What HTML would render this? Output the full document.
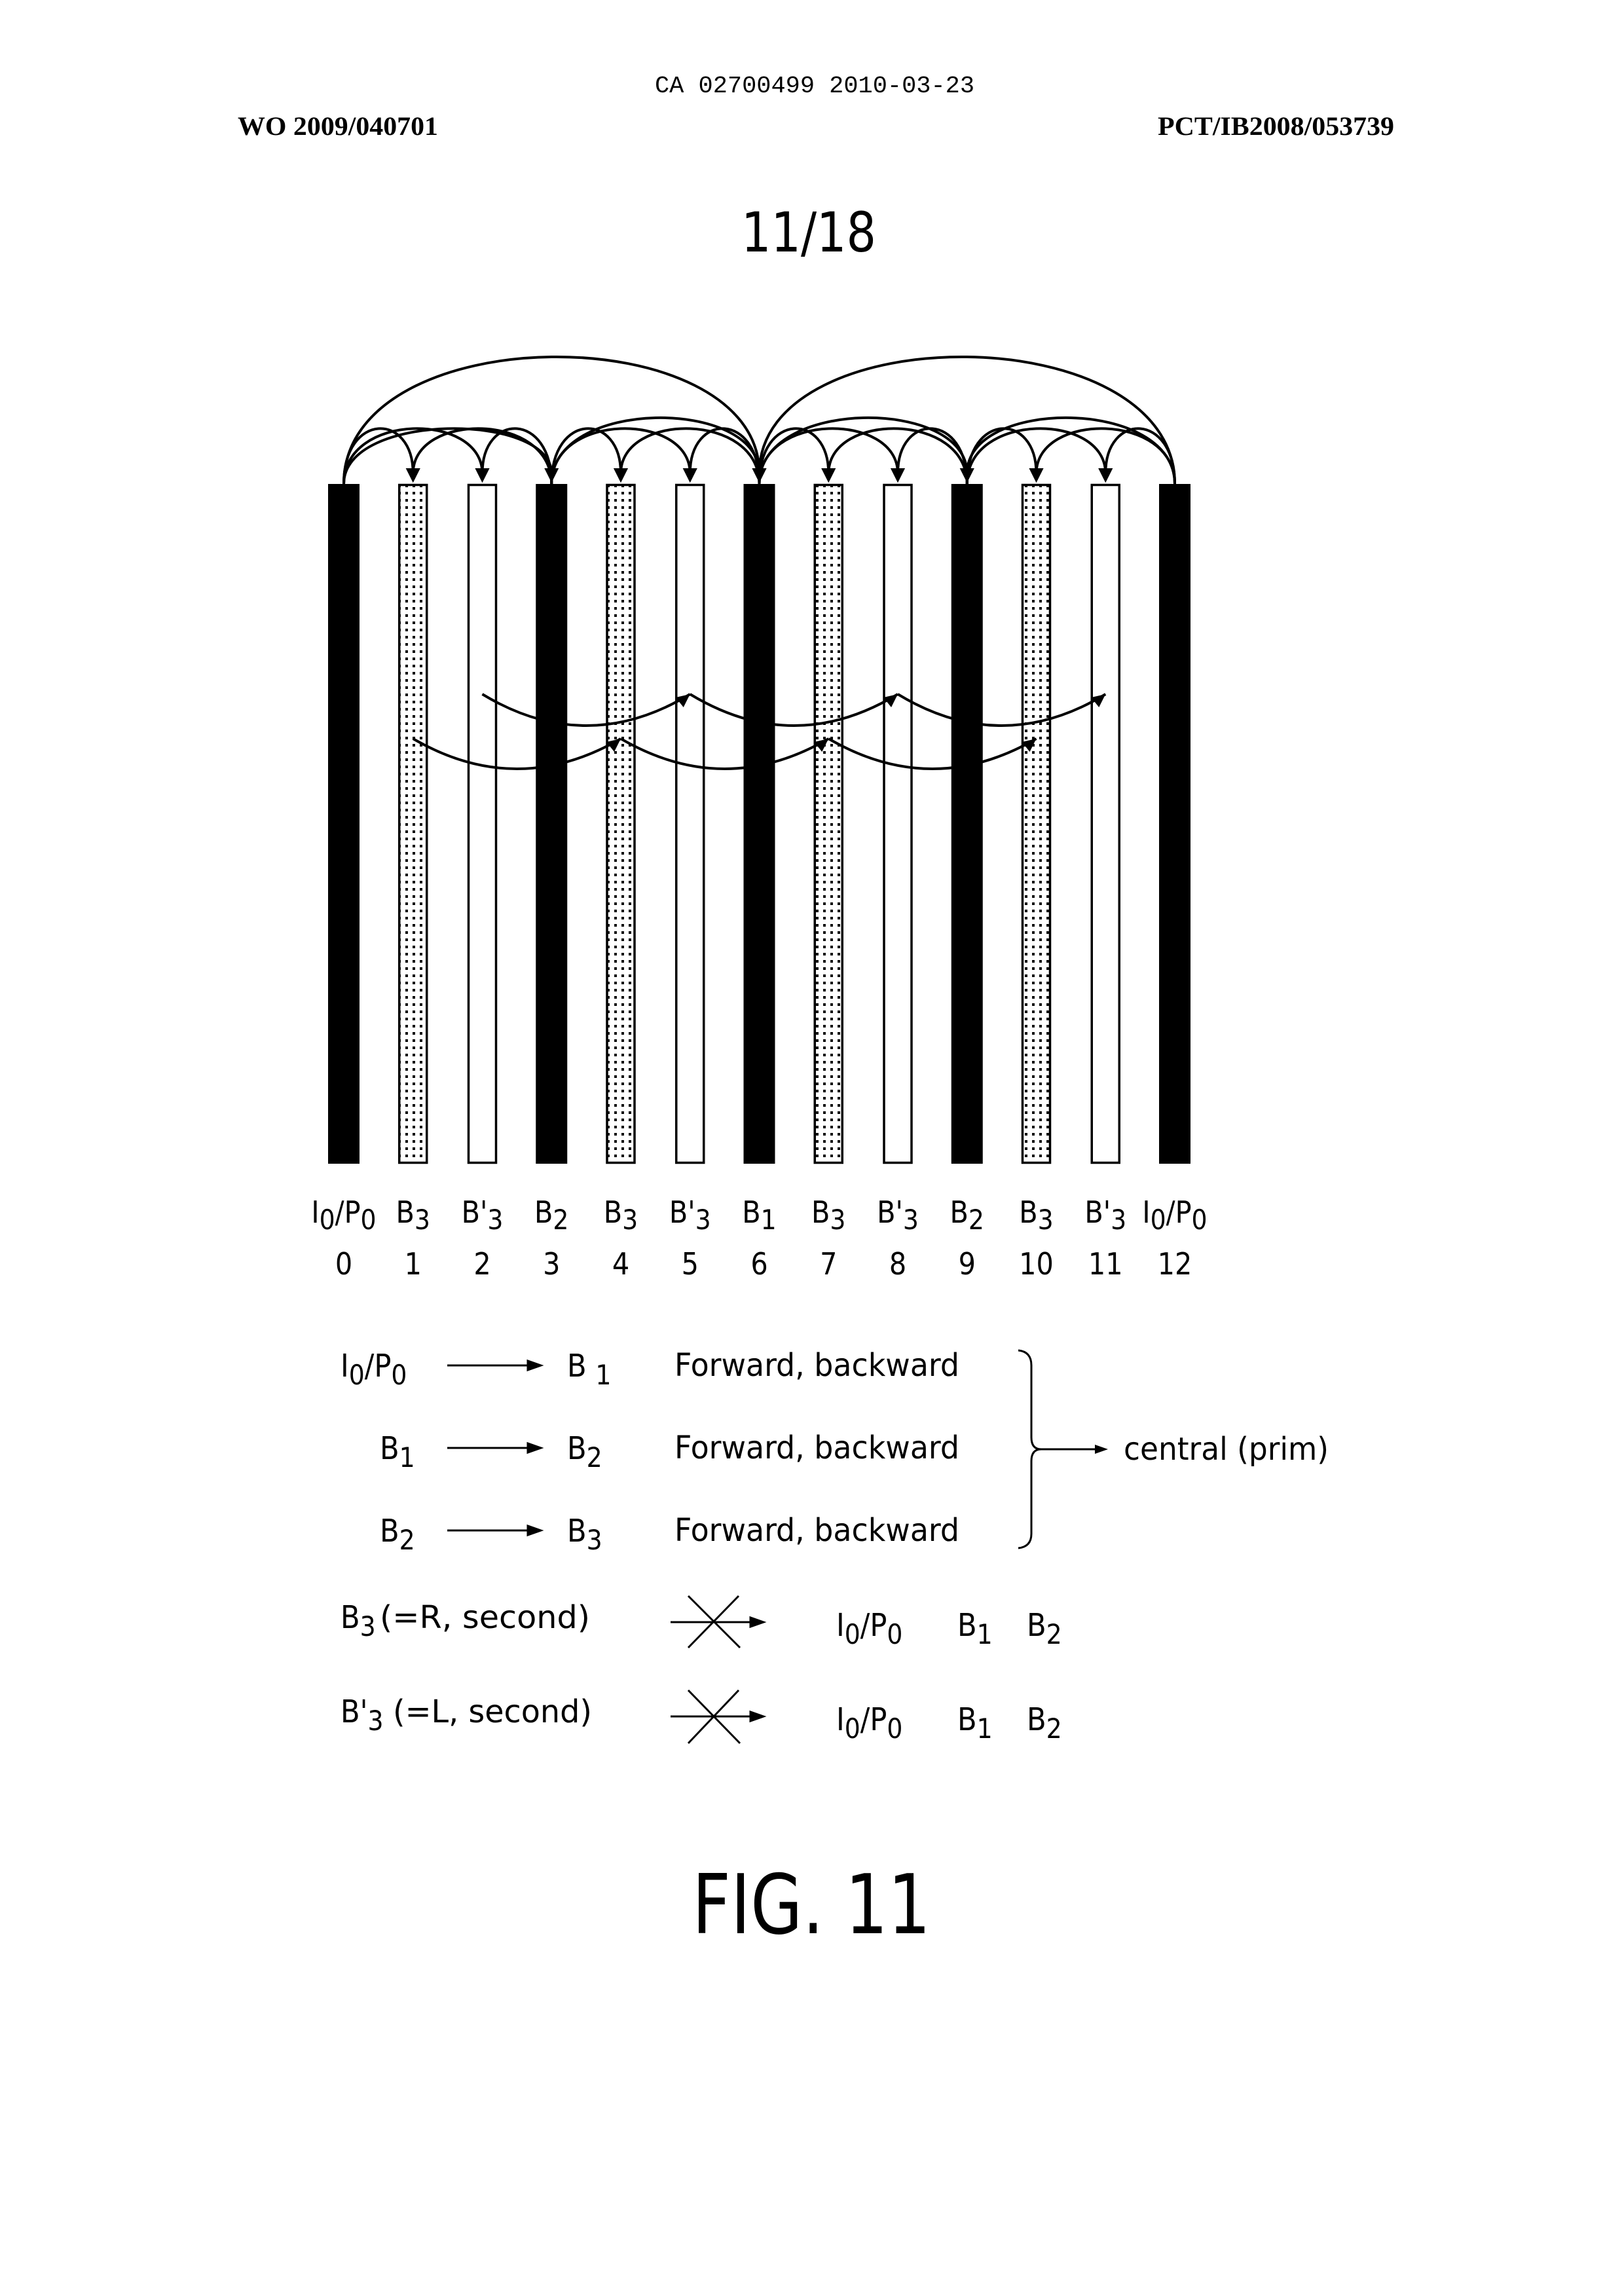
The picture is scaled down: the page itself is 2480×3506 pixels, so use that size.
<!DOCTYPE html>
<html>
<head>
<meta charset="utf-8">
<style>
html,body{margin:0;padding:0;background:#fff;}
svg{display:block;}
</style>
</head>
<body>
<svg id="fig" width="2480" height="3506" viewBox="0 0 2480 3506" xmlns="http://www.w3.org/2000/svg">
<defs>
<pattern id="dots" width="11" height="11" patternUnits="userSpaceOnUse">
<rect x="3" y="3" width="4" height="4" fill="#000"/>
</pattern>
</defs>
<rect width="2480" height="3506" fill="#fff"/>
<text x="1244" y="141" text-anchor="middle" font-family="Liberation Mono, monospace" font-size="36" textLength="488" lengthAdjust="spacingAndGlyphs">CA 02700499 2010-03-23</text>
<text x="363" y="206" font-family="Liberation Serif, serif" font-weight="bold" font-size="40" textLength="306" lengthAdjust="spacingAndGlyphs">WO 2009/040701</text>
<text x="2129" y="206" text-anchor="end" font-family="Liberation Serif, serif" font-weight="bold" font-size="40" textLength="361" lengthAdjust="spacingAndGlyphs">PCT/IB2008/053739</text>
<text x="1235" y="384" text-anchor="middle" font-family="DejaVu Sans, sans-serif" font-size="84" textLength="206" lengthAdjust="spacingAndGlyphs">11/18</text>
<g id="curvesLow" fill="none" stroke="#000" stroke-width="4"></g>
<g id="bars"></g>
<g id="arcs" fill="none" stroke="#000" stroke-width="4"></g>
<g id="heads" fill="#000"></g>
<g id="labels" font-family="DejaVu Sans Condensed, DejaVu Sans, sans-serif" font-size="46"></g>

<g font-family="DejaVu Sans Condensed, DejaVu Sans, sans-serif" font-size="48">
<text x="520" y="2102">I<tspan dy="12" font-size="42">0</tspan><tspan dy="-12">/P</tspan><tspan dy="12" font-size="42">0</tspan></text>
<text x="580" y="2228">B<tspan dy="12" font-size="42">1</tspan></text>
<text x="580" y="2354">B<tspan dy="12" font-size="42">2</tspan></text>
<g stroke="#000" stroke-width="3" fill="#000">
<line x1="683" y1="2085" x2="810" y2="2085"/><polygon points="826,2085 806,2078 806,2092"/>
<line x1="683" y1="2211" x2="810" y2="2211"/><polygon points="826,2211 806,2204 806,2218"/>
<line x1="683" y1="2337" x2="810" y2="2337"/><polygon points="826,2337 806,2330 806,2344"/>
</g>
<text x="866" y="2102">B <tspan dy="12" font-size="42">1</tspan></text>
<text x="866" y="2228">B<tspan dy="12" font-size="42">2</tspan></text>
<text x="866" y="2354">B<tspan dy="12" font-size="42">3</tspan></text>
<text x="1030" y="2101" textLength="435" lengthAdjust="spacingAndGlyphs">Forward, backward</text>
<text x="1030" y="2227" textLength="435" lengthAdjust="spacingAndGlyphs">Forward, backward</text>
<text x="1030" y="2353" textLength="435" lengthAdjust="spacingAndGlyphs">Forward, backward</text>
<path d="M1555,2062 Q1575,2064 1575,2085 L1575,2195 Q1575,2213 1590,2213 Q1575,2213 1575,2231 L1575,2342 Q1575,2362 1555,2364" fill="none" stroke="#000" stroke-width="3"/>
<line x1="1590" y1="2213" x2="1676" y2="2213" stroke="#000" stroke-width="3"/>
<polygon points="1692,2213 1672,2206 1672,2220" fill="#000"/>
<text x="1716" y="2229" textLength="313" lengthAdjust="spacingAndGlyphs">central (prim)</text>

<text x="520" y="2486">B<tspan dy="12" font-size="42">3</tspan><tspan dy="-12" x="580" textLength="321" lengthAdjust="spacingAndGlyphs">(=R, second)</tspan></text>
<text x="520" y="2630">B'<tspan dy="12" font-size="42">3</tspan><tspan dy="-12" x="600" textLength="304" lengthAdjust="spacingAndGlyphs">(=L, second)</tspan></text>
<g stroke="#000" stroke-width="3" fill="#000">
<line x1="1024" y1="2477" x2="1150" y2="2477"/><polygon points="1166,2477 1146,2470 1146,2484"/>
<line x1="1051" y1="2437" x2="1130" y2="2516"/><line x1="1128" y1="2437" x2="1051" y2="2516"/>
<line x1="1024" y1="2621" x2="1150" y2="2621"/><polygon points="1166,2621 1146,2614 1146,2628"/>
<line x1="1051" y1="2581" x2="1130" y2="2662"/><line x1="1128" y1="2581" x2="1051" y2="2662"/>
</g>
<text x="1277" y="2498">I<tspan dy="12" font-size="42">0</tspan><tspan dy="-12">/P</tspan><tspan dy="12" font-size="42">0</tspan><tspan dy="-12" x="1462">B</tspan><tspan dy="12" font-size="42">1</tspan><tspan dy="-12" x="1568">B</tspan><tspan dy="12" font-size="42">2</tspan></text>
<text x="1277" y="2642">I<tspan dy="12" font-size="42">0</tspan><tspan dy="-12">/P</tspan><tspan dy="12" font-size="42">0</tspan><tspan dy="-12" x="1462">B</tspan><tspan dy="12" font-size="42">1</tspan><tspan dy="-12" x="1568">B</tspan><tspan dy="12" font-size="42">2</tspan></text>
</g>
<text x="1239" y="2952" text-anchor="middle" font-family="DejaVu Sans, sans-serif" font-size="126" textLength="364" lengthAdjust="spacingAndGlyphs">FIG. 11</text>
</svg>
<script>
// data
const frameIndex = [0,1,2,3,4,5,6,7,8,9,10,11,12];
const frameType = ['I','B3','B3p','B2','B3','B3p','B1','B3','B3p','B2','B3','B3p','I'];
const frameBase = ['I/P','B','B\'','B','B','B\'','B','B','B\'','B','B','B\'','I/P'];
const frameSub = ['0','3','3','2','3','3','1','3','3','2','3','3','0'];
// top arcs: from, to, height level (1 small, 2 anchor, 3 big)
const arcFrom = [0,0,0,3,3,3,3,3,6,6,6,6,6,9,9,9,9,12,12,12,0,12];
const arcTo   = [1,2,3,1,2,4,5,6,4,5,7,8,9,7,8,10,11,9,10,11,6,6];
const arcLevel= [1,1,1,1,1,1,1,2,1,1,1,1,2,1,1,1,1,2,1,1,3,3];
// lower curves
const lowFrom = [2,5,8,1,4,7];
const lowTo   = [5,8,11,4,7,10];
const lowRow  = [0,0,0,1,1,1];

const NS='http://www.w3.org/2000/svg';
const x0=525, pitch=105.75, barTop=739, barBot=1777;
function xs(i){return x0+i*pitch;}
const arcH=[0,110,132,256];
const rowY=[1060,1128], rowDip=[96,92];

function mk(tag,attrs,parent){const e=document.createElementNS(NS,tag);for(const k in attrs)e.setAttribute(k,attrs[k]);parent.appendChild(e);return e;}

const gLow=document.getElementById('curvesLow');
for(let k=0;k<lowFrom.length;k++){
  const a=xs(lowFrom[k]),b=xs(lowTo[k]),y=rowY[lowRow[k]],d=rowDip[lowRow[k]];
  const p=mk('path',{d:`M${a},${y} Q${(a+b)/2},${y+d} ${b},${y}`},gLow);
  
  
  const h=mk('polygon',{points:`${b},${y} ${b-22},${y+5} ${b-10},${y+20}`,fill:'#000',stroke:'none'},gLow);
  
  
}

const gBars=document.getElementById('bars');
for(let i=0;i<frameIndex.length;i++){
  const cx=xs(frameIndex[i]);
  let r;
  if(frameType[i]==='I'||frameType[i]==='B2'||frameType[i]==='B1'){
    r=mk('rect',{x:cx-24,y:barTop,width:48,height:barBot-barTop,fill:'#000'},gBars);
  } else if(frameType[i]==='B3'){
    r=mk('rect',{x:cx-21,y:barTop+1.5,width:42,height:barBot-barTop-3,fill:'url(#dots)',stroke:'#000','stroke-width':3.5},gBars);
  } else {
    r=mk('rect',{x:cx-21,y:barTop+1.5,width:42,height:barBot-barTop-3,fill:'none',stroke:'#000','stroke-width':3.5},gBars);
  }
  
  
}
const gArcs=document.getElementById('arcs'), gHeads=document.getElementById('heads');
for(let k=0;k<arcFrom.length;k++){
  const a=xs(arcFrom[k]),b=xs(arcTo[k]),h=arcH[arcLevel[k]];
  const yEnd=barTop-2;
  const p=mk('path',{d:`M${a},${barTop} C${a},${barTop-h} ${b},${barTop-h} ${b},${yEnd-14}`},gArcs);
  
  
  const t=mk('polygon',{points:`${b},${yEnd} ${b-11},${yEnd-22} ${b+11},${yEnd-22}`},gHeads);
  
  
}

const gLab=document.getElementById('labels');
for(let i=0;i<frameIndex.length;i++){
  const cx=xs(frameIndex[i]);
  const t=mk('text',{x:cx,y:1867,'text-anchor':'middle'},gLab);
  
  
  if(frameBase[i]==='I/P'){
    t.innerHTML=`I<tspan dy="10" font-size="42">${frameSub[i]}</tspan><tspan dy="-10">/P</tspan><tspan dy="10" font-size="42">${frameSub[i]}</tspan>`;
  } else {
    t.innerHTML=`${frameBase[i]}<tspan dy="10" font-size="42">${frameSub[i]}</tspan>`;
  }
  const n=mk('text',{x:cx,y:1946,'text-anchor':'middle'},gLab);
  
  
  n.textContent=String(frameIndex[i]);
}
</script>
</body>
</html>
